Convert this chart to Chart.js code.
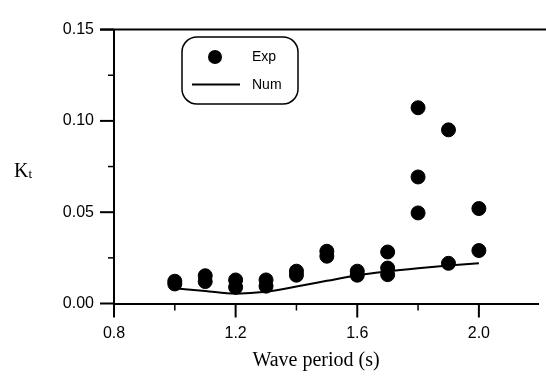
<!DOCTYPE html>
<html>
<head>
<meta charset="utf-8">
<script src="https://cdn.jsdelivr.net/npm/chart.js@4/dist/chart.umd.min.js"></script>
<style>
html,body{margin:0;padding:0;background:#fff;}
canvas{display:block;}
</style>
</head>
<body>
<canvas id="c" width="546" height="381"></canvas>
<script>
// ---- data ----
const expLabel = "Exp";
const numLabel = "Num";
const expPeriod = [1.0,1.0,1.1,1.1,1.2,1.2,1.3,1.3,1.4,1.4,1.5,1.5,1.6,1.6,1.7,1.7,1.7,1.8,1.8,1.8,1.9,1.9,2.0,2.0];
const expKt     = [0.0122,0.0107,0.0152,0.0120,0.0129,0.0089,0.0129,0.0095,0.0177,0.0155,0.0286,0.0259,0.0177,0.0155,0.0282,0.0194,0.0158,0.1072,0.0693,0.0496,0.0951,0.0220,0.0520,0.0290];
const numPeriod = [1.0,1.1,1.2,1.3,1.4,1.5,1.6,1.7,1.8,1.9,2.0];
const numKt     = [0.0083,0.0068,0.0054,0.0064,0.0093,0.0124,0.0155,0.0176,0.0193,0.0208,0.0220];
const xMajorTicks = [0.8,1.2,1.6,2.0];
const xMinorTicks = [1.0,1.4,1.8];
const yMajorTicks = [0.00,0.05,0.10,0.15];
const yMinorTicks = [0.025,0.075,0.125];
const xTitle = "Wave period (s)";
const yTitleMain = "K";
const yTitleSub = "t";

const sans = "'Liberation Sans', Arial, sans-serif";
const serif = "'Liberation Serif', 'Times New Roman', serif";

const decor = {
  id: 'decor',
  afterDraw(chart) {
    const ctx = chart.ctx, a = chart.chartArea, xs = chart.scales.x, ys = chart.scales.y;
    ctx.save();
    ctx.strokeStyle = '#000';
    ctx.lineCap = 'butt';
    // top frame line
    ctx.lineWidth = 2;
    ctx.beginPath(); ctx.moveTo(100, a.top); ctx.lineTo(546, a.top); ctx.stroke();
    // y ticks
    yMajorTicks.forEach(v => { const p = ys.getPixelForValue(v); ctx.beginPath(); ctx.moveTo(a.left - 14, p); ctx.lineTo(a.left, p); ctx.stroke(); });
    ctx.lineWidth = 1.5;
    yMinorTicks.forEach(v => { const p = ys.getPixelForValue(v); ctx.beginPath(); ctx.moveTo(a.left - 6, p); ctx.lineTo(a.left, p); ctx.stroke(); });
    // x ticks
    ctx.lineWidth = 2;
    xMajorTicks.forEach(v => { const p = xs.getPixelForValue(v); ctx.beginPath(); ctx.moveTo(p, a.bottom); ctx.lineTo(p, a.bottom + 14); ctx.stroke(); });
    ctx.lineWidth = 1.5;
    xMinorTicks.forEach(v => { const p = xs.getPixelForValue(v); ctx.beginPath(); ctx.moveTo(p, a.bottom); ctx.lineTo(p, a.bottom + 7); ctx.stroke(); });

    // axis titles
    ctx.fillStyle = '#000';
    ctx.font = "20px " + serif;
    ctx.textAlign = 'center'; ctx.textBaseline = 'middle';
    ctx.fillText(xTitle, 316, 361);
    ctx.textAlign = 'left'; ctx.textBaseline = 'alphabetic';
    ctx.font = "20px " + serif;
    ctx.fillText(yTitleMain, 14, 177);
    const kw = ctx.measureText(yTitleMain).width;
    ctx.font = "13px " + serif;
    ctx.fillText(yTitleSub, 14 + kw, 178);

    // legend box
    const bx = 182, by = 37, bw = 116, bh = 67, r = 15;
    ctx.lineWidth = 1.5;
    ctx.beginPath();
    ctx.roundRect(bx, by, bw, bh, r);
    ctx.stroke();
    ctx.beginPath(); ctx.arc(215, 57, 7, 0, Math.PI * 2); ctx.fill();
    ctx.lineWidth = 2;
    ctx.beginPath(); ctx.moveTo(192, 84.5); ctx.lineTo(240, 84.5); ctx.stroke();
    ctx.font = "14px " + sans;
    ctx.textAlign = 'left'; ctx.textBaseline = 'middle';
    ctx.fillText(chart.data.datasets[1].label, 252, 57);
    ctx.fillText(chart.data.datasets[0].label, 252, 85);
    ctx.restore();
  }
};

new Chart(document.getElementById('c'), {
  type: 'scatter',
  data: {
    datasets: [
      {
        label: numLabel,
        data: numPeriod.map((x, i) => ({x: x, y: numKt[i]})),
        showLine: true,
        tension: 0.4,
        cubicInterpolationMode: 'monotone',
        borderColor: '#000',
        borderWidth: 2,
        pointRadius: 0,
        fill: false,
        order: 2
      },
      {
        label: expLabel,
        data: expPeriod.map((x, i) => ({x: x, y: expKt[i]})),
        showLine: false,
        pointRadius: 7,
        pointBorderWidth: 1,
        pointBackgroundColor: '#000',
        pointBorderColor: '#000',
        order: 1
      }
    ]
  },
  options: {
    responsive: false,
    animation: false,
    devicePixelRatio: 1,
    layout: { padding: { top: 13.5, left: 0, right: 0, bottom: 0 } },
    plugins: { legend: { display: false }, tooltip: { enabled: false } },
    scales: {
      x: {
        type: 'linear',
        min: 0.8,
        max: 2.1944,
        afterBuildTicks: s => { s.ticks = xMajorTicks.map(v => ({value: v})); },
        afterFit: s => { s.height = 77.5; },
        ticks: {
          color: '#000',
          font: { family: sans, size: 16 },
          padding: 20,
          maxRotation: 0,
          callback: v => v.toFixed(1)
        },
        grid: { display: true, drawOnChartArea: false, drawTicks: false },
        border: { display: true, color: '#000', width: 2 },
        title: { display: false }
      },
      y: {
        type: 'linear',
        min: 0,
        max: 0.15,
        afterBuildTicks: s => { s.ticks = yMajorTicks.map(v => ({value: v})); },
        afterFit: s => { s.width = 114; },
        ticks: {
          color: '#000',
          font: { family: sans, size: 16 },
          padding: 20,
          callback: v => v.toFixed(2)
        },
        grid: { display: true, drawOnChartArea: false, drawTicks: false },
        border: { display: true, color: '#000', width: 2 },
        title: { display: false }
      }
    }
  },
  plugins: [decor]
});
</script>
</body>
</html>
